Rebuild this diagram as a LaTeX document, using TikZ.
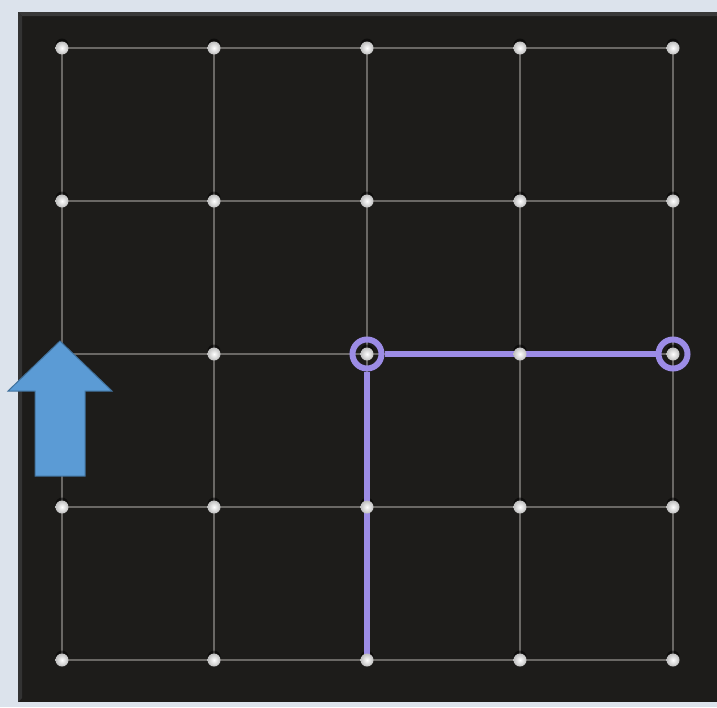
\documentclass[tikz,border=0pt]{standalone}
\definecolor{bgc}{HTML}{DCE3EC}
\definecolor{board}{HTML}{1D1C1A}
\definecolor{gridc}{HTML}{6A6865}
\definecolor{purp}{HTML}{9C8CE6}
\definecolor{arrf}{HTML}{5B9BD5}
\definecolor{arrd}{HTML}{41719C}
\tikzset{
  peg/.style={circle,inner sep=0pt,minimum size=13pt,inner color=white,outer color=black!25},
  pegshadow/.style={circle,inner sep=0pt,minimum size=13pt,fill=black,opacity=0.5},
  gridline/.style={draw=gridc,line width=1.2pt},
  band/.style={draw=purp,line width=5.5pt},
  ring/.style={circle,draw=purp,line width=6pt,minimum size=29pt,inner sep=0pt},
  arrowshape/.style={draw=arrd,fill=arrf,line width=1pt,line join=miter}
}
\begin{document}
\begin{tikzpicture}[x=1pt,y=-1pt]
\useasboundingbox (0,0) rectangle (717,707);
\fill[bgc] (0,0) rectangle (717,707);
\fill[board] (18,12) rectangle (717,702);
\fill[gray!45!black] (18,12) -- (717,12) -- (717,16) -- (22,16) -- cycle;
\fill[black!80] (18,12) -- (22,16) -- (22,698) -- (18,702) -- cycle;
% grid points
\foreach \i/\x in {1/62,2/214,3/367,4/520,5/673}{
  \foreach \j/\y in {1/48,2/201,3/354,4/507,5/660}{
    \coordinate (c-\i-\j) at (\x,\y);
  }
}
% grid lines
\foreach \i in {1,...,5}{
  \draw[gridline] (c-\i-1) -- (c-\i-5);
  \draw[gridline] (c-1-\i) -- (c-5-\i);
}
% peg shadows
\foreach \i in {1,...,5}{
  \foreach \j in {1,...,5}{
    \node[pegshadow] (s-\i-\j) at ([yshift=3pt]c-\i-\j) {};
  }
}
% band
\node[ring] (r1) at (c-3-3) {};
\node[ring] (r2) at (c-5-3) {};
\draw[band] (c-3-5) -- (r1.south);
\draw[band] (r1.east) -- (r2.west);
% pegs
\foreach \i in {1,...,5}{
  \foreach \j in {1,...,5}{
    \node[peg] (p-\i-\j) at (c-\i-\j) {};
  }
}
% arrow
\draw[arrowshape] (60,341) -- (112,391) -- (85,391) -- (85,476) -- (35,476) -- (35,391) -- (8,391) -- cycle;
\end{tikzpicture}
\end{document}
